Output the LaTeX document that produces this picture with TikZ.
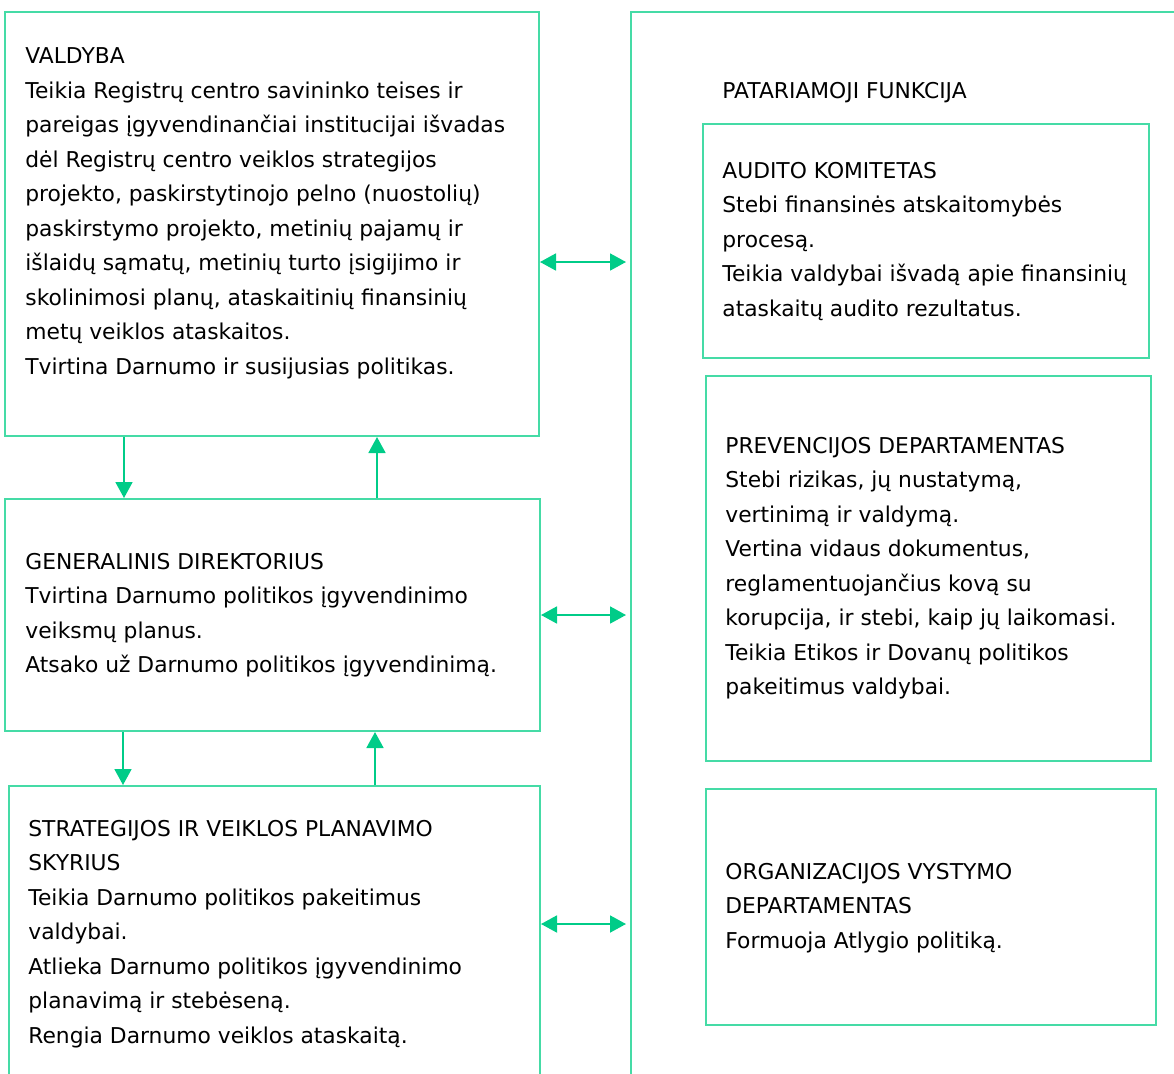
\documentclass[tikz,border=0pt]{standalone}
\usepackage{fontspec}
\setmainfont{DejaVu Sans}
\usepackage{xcolor}
\usetikzlibrary{arrows.meta, fit}

\definecolor{rimgreen}{HTML}{45DBA6}
\definecolor{tipgreen}{HTML}{00CC88}

\begin{document}
\begin{tikzpicture}[x=0.5pt, y=-0.5pt,
    box/.style={draw=rimgreen, line width=1pt, inner sep=0pt},
    txt/.style={anchor=north west, inner sep=0pt, align=left,
      font=\fontsize{10.9pt}{17.25pt}\selectfont},
    arr/.style={draw=tipgreen, line width=0.9pt,
      -{Triangle[length=8pt, width=8.5pt]}},
    both/.style={arr, {Triangle[length=8pt, width=8.5pt]}-{Triangle[length=8pt, width=8.5pt]}}]

  \useasboundingbox (0,0) rectangle (1174,1073);
  \clip (0,0) rectangle (1174,1073);

  % Left column
  \node[box, fit={(5,12) (539,436)}] (valdyba) {};
  \node[box, fit={(5,499) (540,731)}] (gendir) {};
  \node[box, fit={(9,786) (540,1110)}] (strat) {};

  % Right column (advisory frame)
  \node[box, fit={(631,12) (1200,1110)}] (advice) {};
  \node[box, fit={(703,124) (1149,358)}] (audit) {};
  \node[box, fit={(706,376) (1151,761)}] (prev) {};
  \node[box, fit={(706,789) (1156,1025)}] (org) {};

  % Texts
  \node[txt] (valdybatxt) at (25,47.5) {VALDYBA\\
    Teikia Registrų centro savininko teises ir\\
    pareigas įgyvendinančiai institucijai išvadas\\
    dėl Registrų centro veiklos strategijos\\
    projekto, paskirstytinojo pelno (nuostolių)\\
    paskirstymo projekto, metinių pajamų ir\\
    išlaidų sąmatų, metinių turto įsigijimo ir\\
    skolinimosi planų, ataskaitinių finansinių\\
    metų veiklos ataskaitos.\\
    Tvirtina Darnumo ir susijusias politikas.};
  \node[txt] (gendirtxt) at (25,552.5) {GENERALINIS DIREKTORIUS\\
    Tvirtina Darnumo politikos įgyvendinimo\\
    veiksmų planus.\\
    Atsako už Darnumo politikos įgyvendinimą.};
  \node[txt] (strattxt) at (28,819.5) {STRATEGIJOS IR VEIKLOS PLANAVIMO\\
    SKYRIUS\\
    Teikia Darnumo politikos pakeitimus\\
    valdybai.\\
    Atlieka Darnumo politikos įgyvendinimo\\
    planavimą ir stebėseną.\\
    Rengia Darnumo veiklos ataskaitą.};
  \node[txt] (advicetxt) at (722,81.5) {PATARIAMOJI FUNKCIJA};
  \node[txt] (audittxt) at (722,161.5) {AUDITO KOMITETAS\\
    Stebi finansinės atskaitomybės\\
    procesą.\\
    Teikia valdybai išvadą apie finansinių\\
    ataskaitų audito rezultatus.};
  \node[txt] (prevtxt) at (725,436.5) {PREVENCIJOS DEPARTAMENTAS\\
    Stebi rizikas, jų nustatymą,\\
    vertinimą ir valdymą.\\
    Vertina vidaus dokumentus,\\
    reglamentuojančius kovą su\\
    korupcija, ir stebi, kaip jų laikomasi.\\
    Teikia Etikos ir Dovanų politikos\\
    pakeitimus valdybai.};
  \node[txt] (orgtxt) at (725,862.5) {ORGANIZACIJOS VYSTYMO\\
    DEPARTAMENTAS\\
    Formuoja Atlygio politiką.};

  % Vertical links
  \coordinate (down1) at (124,0);
  \coordinate (up1) at (377,0);
  \coordinate (down2) at (123,0);
  \coordinate (up2) at (375,0);
  \draw[arr] (valdyba.south -| down1) -- (gendir.north -| down1);
  \draw[arr] (gendir.north -| up1) -- (valdyba.south -| up1);
  \draw[arr] (gendir.south -| down2) -- (strat.north -| down2);
  \draw[arr] (strat.north -| up2) -- (gendir.south -| up2);

  % Links to the advisory frame
  \coordinate (side1) at (0,262);
  \coordinate (side2) at (0,615);
  \coordinate (side3) at (0,924);
  \draw[both, shorten >=2pt] (valdyba.east |- side1) -- (advice.west |- side1);
  \draw[both, shorten >=2pt] (gendir.east |- side2) -- (advice.west |- side2);
  \draw[both, shorten >=2pt] (strat.east |- side3) -- (advice.west |- side3);

\end{tikzpicture}
\end{document}
